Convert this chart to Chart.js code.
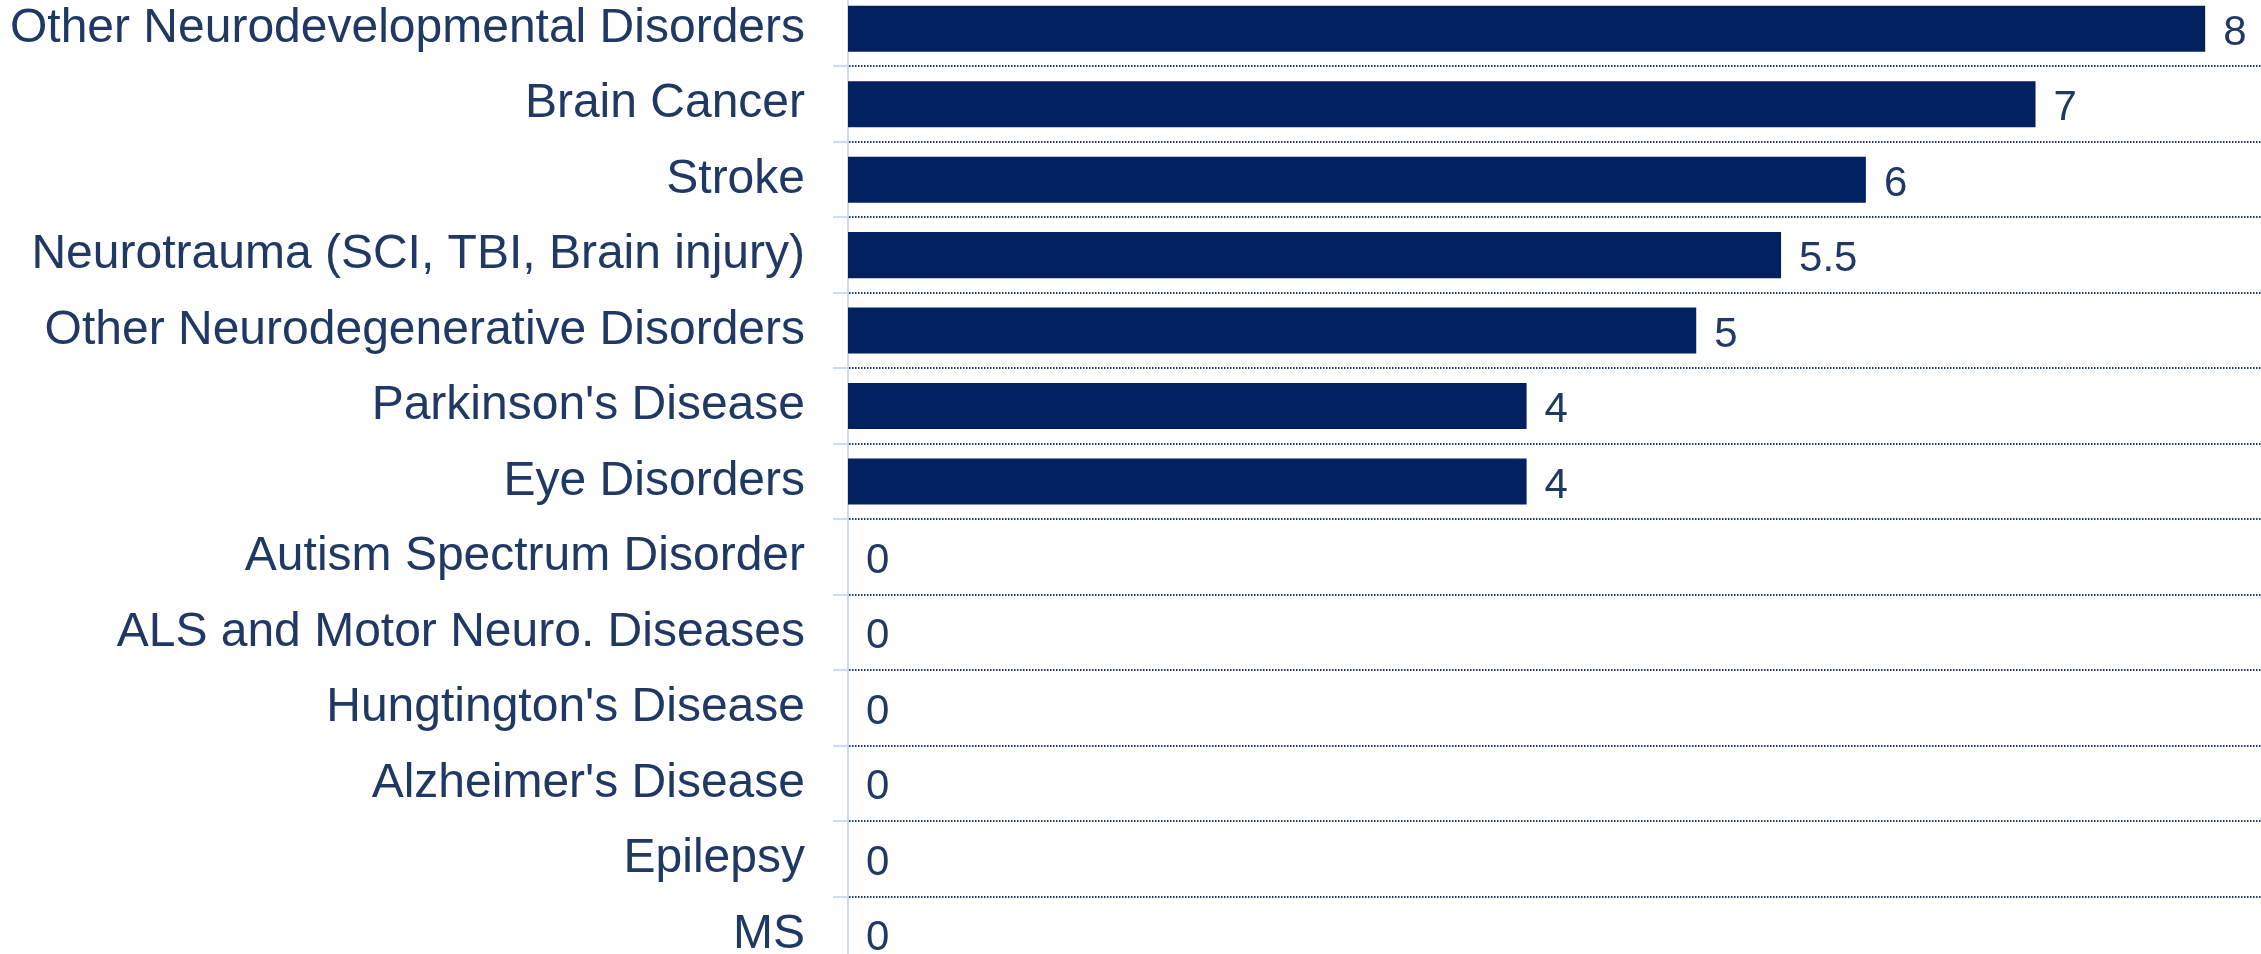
<!DOCTYPE html>
<html>
<head>
<meta charset="utf-8">
<title>Bar chart</title>
<script src="https://cdn.jsdelivr.net/npm/chart.js@4.4.1/dist/chart.umd.min.js"></script>
<style>
    html, body { margin: 0; padding: 0; background: #ffffff; overflow: hidden; }
    #wrap { position: relative; width: 2261px; height: 954px; overflow: hidden; }
    #barChart { position: absolute; left: 0; top: -9px; }
</style>
</head>
<body>
<div id="wrap">
    <canvas id="barChart" width="2290" height="981"></canvas>
</div>
<script>
// Data ..........................................................................
const categories = [
    'Other Neurodevelopmental Disorders',
    'Brain Cancer',
    'Stroke',
    'Neurotrauma (SCI, TBI, Brain injury)',
    'Other Neurodegenerative Disorders',
    "Parkinson's Disease",
    'Eye Disorders',
    'Autism Spectrum Disorder',
    'ALS and Motor Neuro. Diseases',
    "Hungtington's Disease",
    "Alzheimer's Disease",
    'Epilepsy',
    'MS'
];
const values = [8, 7, 6, 5.5, 5, 4, 4, 0, 0, 0, 0, 0, 0];
const xMin = 0;
const xMax = 8.5;

const navy = '#002060';
const textColor = '#1f3864';
const axisBlue = '#cddcf1';
const fontFamily = '"Liberation Sans", Arial, sans-serif';

// Value labels next to each bar ..................................................
const valueLabels = {
    id: 'valueLabels',
    afterDatasetsDraw(chart) {
        const ctx = chart.ctx;
        const meta = chart.getDatasetMeta(0);
        ctx.save();
        ctx.font = '42px ' + fontFamily;
        ctx.fillStyle = textColor;
        ctx.textAlign = 'left';
        ctx.textBaseline = 'alphabetic';
        meta.data.forEach((bar, i) => {
            ctx.fillText(String(values[i]), bar.x + 18, bar.y + 16);
        });
        ctx.restore();
    }
};

const ctx = document.getElementById('barChart').getContext('2d');
new Chart(ctx, {
    type: 'bar',
    data: {
        labels: categories,
        datasets: [{
            data: values,
            backgroundColor: navy,
            borderWidth: 0,
            barPercentage: 0.61,
            categoryPercentage: 1
        }]
    },
    options: {
        indexAxis: 'y',
        responsive: false,
        animation: false,
        devicePixelRatio: 1,
        layout: { padding: 0, autoPadding: false },
        plugins: {
            legend: { display: false },
            tooltip: { enabled: false }
        },
        scales: {
            x: {
                display: false,
                min: xMin,
                max: xMax
            },
            y: {
                afterFit(scale) {
                    // keep the label column fixed and let bands fill the full height
                    scale.width = 848;
                    scale.paddingTop = 0;
                    scale.paddingBottom = 0;
                },
                ticks: {
                    color: textColor,
                    padding: 28,
                    font: { family: fontFamily, size: 48 }
                },
                grid: {
                    offset: true,
                    color: '#1f3864',
                    lineWidth: 2,
                    tickLength: 15,
                    tickColor: axisBlue,
                    tickWidth: 2,
                    tickBorderDash: []
                },
                border: {
                    display: true,
                    color: axisBlue,
                    width: 2,
                    dash: [1.5, 1.5]
                }
            }
        }
    },
    plugins: [valueLabels]
});
</script>
</body>
</html>
